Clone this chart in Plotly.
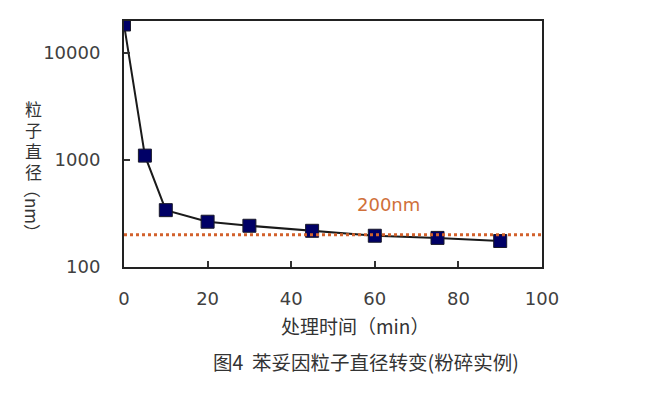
import plotly.graph_objects as go

time_min = [0, 5, 10, 20, 30, 45, 60, 75, 90]
size_nm = [18500, 1100, 340, 265, 243, 218, 196, 187, 175]
target_x = [0, 100]
target_y = [200, 200]
target_label = "200nm"
x_ticks = [0, 20, 40, 60, 80, 100]
y_ticks = [100, 1000, 10000]
y_title_chars = ["粒", "子", "直", "径"]

fig = go.Figure()
fig.add_trace(go.Scatter(
    x=time_min, y=size_nm, mode="lines+markers",
    line=dict(color="#1a1a1a", width=2),
    marker=dict(symbol="square", size=13, color="#000066",
                line=dict(color="#1a1a2a", width=1)),
    showlegend=False))
fig.add_trace(go.Scatter(
    x=target_x, y=target_y, mode="lines",
    line=dict(color="#d2612c", width=3, dash="dot"),
    showlegend=False))

fig.add_annotation(x=63.2, y=2.58, xref="x", yref="y", text=target_label,
                   showarrow=False, xanchor="center", yanchor="middle",
                   font=dict(size=18, color="#d0703a", family="DejaVu Sans"))

font_tick = dict(family="DejaVu Sans", size=18, color="#404040")

fig.update_xaxes(range=[0, 100], tickvals=x_ticks, ticks="inside", ticklen=6,
                 tickcolor="#333", tickwidth=1.5,
                 showline=True, linecolor="#222", linewidth=2, mirror=True,
                 showgrid=False, zeroline=False, tickfont=font_tick,
                 ticklabelstandoff=14)
fig.update_yaxes(type="log", range=[2, 4.3], tickvals=y_ticks,
                 ticktext=[str(v) for v in y_ticks], ticks="inside", ticklen=6,
                 tickcolor="#333", tickwidth=1.5,
                 showline=True, linecolor="#222", linewidth=2, mirror=True,
                 showgrid=False, zeroline=False, tickfont=font_tick,
                 ticklabelstandoff=18)

cjk = "Noto Sans CJK SC"
W, H = 418, 246
def px(xp):
    return (xp - 124) / W
def py(yp):
    return (267 - yp) / H

for i, ch in enumerate(y_title_chars):
    fig.add_annotation(x=px(33), y=py(108 + 21 * i), xref="paper", yref="paper",
                       text=ch, showarrow=False, xanchor="center", yanchor="middle",
                       height=20, font=dict(family=cjk, size=17, color="#333"))
fig.add_annotation(x=px(33), y=py(211), xref="paper", yref="paper",
                   text="（nm）", textangle=90, showarrow=False,
                   xanchor="center", yanchor="middle",
                   font=dict(family=cjk, size=17, color="#333"))
fig.add_annotation(x=px(355), y=py(325), xref="paper", yref="paper",
                   text="处理时间（min）", showarrow=False,
                   xanchor="center", yanchor="middle",
                   font=dict(family=cjk, size=19, color="#333"))
fig.add_annotation(x=px(365.5), y=py(361), xref="paper", yref="paper",
                   text="图4  苯妥因粒子直径转变(粉碎实例)", showarrow=False,
                   xanchor="center", yanchor="middle",
                   font=dict(family=cjk, size=19.5, color="#333"))

fig.update_layout(width=648, height=390,
                  margin=dict(l=116, r=114, t=13, b=131),
                  paper_bgcolor="white", plot_bgcolor="white")
fig.write_html("out.html")
